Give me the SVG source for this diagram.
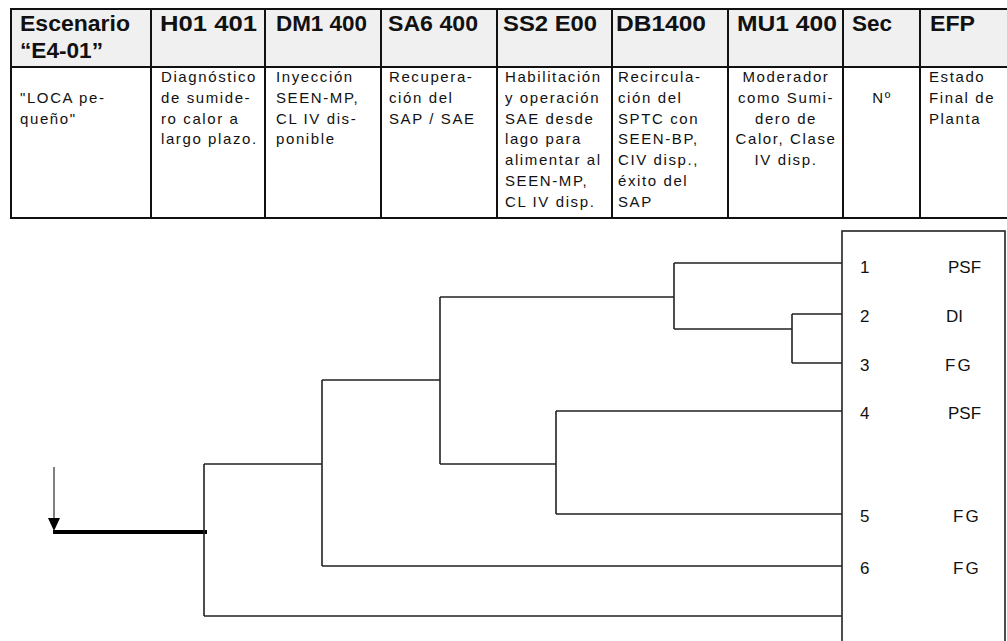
<svg xmlns="http://www.w3.org/2000/svg" width="1007" height="641" viewBox="0 0 1007 641">
<style>
.hd{font-family:"Liberation Sans",Arial,sans-serif;font-weight:bold;font-size:22px;fill:#111}
.bd{font-family:"Liberation Sans",Arial,sans-serif;font-size:15px;letter-spacing:1.6px;fill:#111}
.lf{font-family:"Liberation Sans",Arial,sans-serif;font-size:17px;fill:#111}
.grid{stroke:#111;stroke-width:2;fill:none}
.cn{stroke:#222;stroke-width:1.6;fill:none}
</style>
<rect width="1007" height="641" fill="#fff"/>
<g id="table">
<rect x="11" y="9" width="1000" height="58" fill="#f0f0f0"/>
<rect x="11" y="9" width="1000" height="209" class="grid"/>
<line x1="11" y1="67" x2="1011" y2="67" class="grid"/>
<line x1="151" y1="9" x2="151" y2="218" class="grid"/>
<line x1="265" y1="9" x2="265" y2="218" class="grid"/>
<line x1="381" y1="9" x2="381" y2="218" class="grid"/>
<line x1="497" y1="9" x2="497" y2="218" class="grid"/>
<line x1="612" y1="9" x2="612" y2="218" class="grid"/>
<line x1="728" y1="9" x2="728" y2="218" class="grid"/>
<line x1="843" y1="9" x2="843" y2="218" class="grid"/>
<line x1="920" y1="9" x2="920" y2="218" class="grid"/>
<text class="hd" x="20" y="31" textLength="110" lengthAdjust="spacingAndGlyphs">Escenario</text>
<text class="hd" x="20" y="58" textLength="83" lengthAdjust="spacingAndGlyphs">“E4-01”</text>
<text class="hd" x="160" y="31" textLength="97" lengthAdjust="spacingAndGlyphs">H01 401</text>
<text class="hd" x="276" y="31" textLength="91" lengthAdjust="spacingAndGlyphs">DM1 400</text>
<text class="hd" x="388" y="31" textLength="90" lengthAdjust="spacingAndGlyphs">SA6 400</text>
<text class="hd" x="503" y="31" textLength="94" lengthAdjust="spacingAndGlyphs">SS2 E00</text>
<text class="hd" x="616" y="31" textLength="90" lengthAdjust="spacingAndGlyphs">DB1400</text>
<text class="hd" x="737" y="31" textLength="100" lengthAdjust="spacingAndGlyphs">MU1 400</text>
<text class="hd" x="852" y="31" textLength="40" lengthAdjust="spacingAndGlyphs">Sec</text>
<text class="hd" x="930" y="31" textLength="45" lengthAdjust="spacingAndGlyphs">EFP</text>
<text class="bd" x="20" y="103">"LOCA pe-</text>
<text class="bd" x="20" y="124">queño"</text>
<text class="bd" x="161"><tspan x="161" y="82">Diagnóstico</tspan><tspan x="161" y="103">de sumide-</tspan><tspan x="161" y="124">ro calor a</tspan><tspan x="161" y="144">largo plazo.</tspan></text>
<text class="bd" x="276"><tspan x="276" y="82">Inyección</tspan><tspan x="276" y="103">SEEN-MP,</tspan><tspan x="276" y="124">CL IV dis-</tspan><tspan x="276" y="144">ponible</tspan></text>
<text class="bd" x="389"><tspan x="389" y="82">Recupera-</tspan><tspan x="389" y="103">ción del</tspan><tspan x="389" y="124">SAP / SAE</tspan></text>
<text class="bd" x="505"><tspan x="505" y="82">Habilitación</tspan><tspan x="505" y="103">y operación</tspan><tspan x="505" y="124">SAE desde</tspan><tspan x="505" y="144">lago para</tspan><tspan x="505" y="165">alimentar al</tspan><tspan x="505" y="186">SEEN-MP,</tspan><tspan x="505" y="207">CL IV disp.</tspan></text>
<text class="bd" x="618"><tspan x="618" y="82">Recircula-</tspan><tspan x="618" y="103">ción del</tspan><tspan x="618" y="124">SPTC con</tspan><tspan x="618" y="144">SEEN-BP,</tspan><tspan x="618" y="165">CIV disp.,</tspan><tspan x="618" y="186">éxito del</tspan><tspan x="618" y="207">SAP</tspan></text>
<text class="bd" text-anchor="middle"><tspan x="786" y="82">Moderador</tspan><tspan x="786" y="103">como Sumi-</tspan><tspan x="786" y="124">dero de</tspan><tspan x="786" y="144">Calor, Clase</tspan><tspan x="786" y="165">IV disp.</tspan></text>
<text class="bd" x="882" y="103" text-anchor="middle">Nº</text>
<text class="bd" x="929"><tspan x="929" y="82">Estado</tspan><tspan x="929" y="103">Final de</tspan><tspan x="929" y="124">Planta</tspan></text>
</g>
<g id="connectors">
<line x1="54" y1="467" x2="54" y2="519" stroke="#808080" stroke-width="2"/>
<polygon points="48,518 60,518 54,531" fill="#000"/>
<line x1="53" y1="532" x2="207" y2="532" stroke="#000" stroke-width="4"/>
<path class="cn" d="M204,464 V616 M204,464 H322 M204,616 H842 M322,380 V566 M322,380 H440 M322,566 H842 M440,297 V464 M440,297 H674 M440,464 H556 M674,263 V329 M674,263 H842 M674,329 H792 M792,314 V363 M792,314 H842 M792,363 H842 M556,411 V514 M556,411 H842 M556,514 H842"/>
</g>
<g id="end-states">
<rect x="842" y="231" width="163" height="420" fill="none" stroke="#222" stroke-width="1.6"/>
</g>
<g id="seq1"><text class="lf" x="860" y="273">1</text><text class="lf" x="948" y="273">PSF</text></g>
<g id="seq2"><text class="lf" x="860" y="322">2</text><text class="lf" x="946" y="322">DI</text></g>
<g id="seq3"><text class="lf" x="860" y="371">3</text><text class="lf" x="945" y="371" letter-spacing="2">FG</text></g>
<g id="seq4"><text class="lf" x="860" y="419">4</text><text class="lf" x="948" y="419">PSF</text></g>
<g id="seq5"><text class="lf" x="860" y="522">5</text><text class="lf" x="953" y="522" letter-spacing="2">FG</text></g>
<g id="seq6"><text class="lf" x="860" y="574">6</text><text class="lf" x="953" y="574" letter-spacing="2">FG</text></g>
</svg>
